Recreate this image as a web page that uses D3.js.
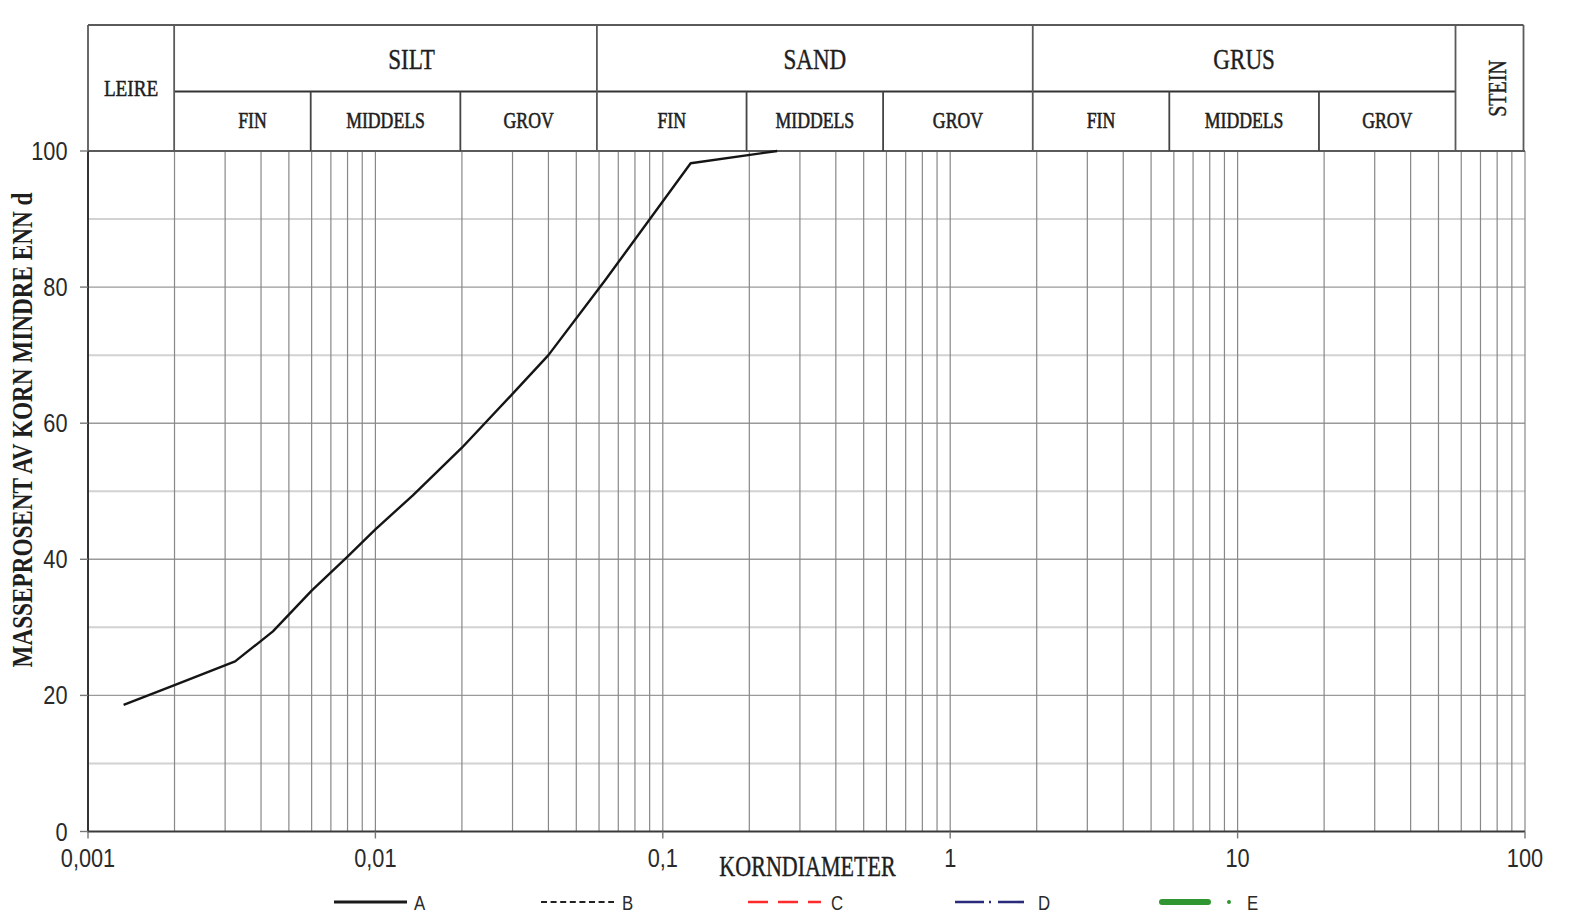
<!DOCTYPE html>
<html>
<head>
<meta charset="utf-8">
<title>Kornfordeling</title>
<script src="https://cdn.jsdelivr.net/npm/d3@7"></script>
<style>
  html, body { margin: 0; padding: 0; background: #fff; }
  svg { display: block; }
</style>
</head>
<body>
<svg id="chart" width="1574" height="920"></svg>
<script>
// Grain size distribution curve, sample A (diameter in mm, % passing)
const grainSize = [0.00133, 0.002, 0.00325, 0.0044, 0.006, 0.008, 0.01, 0.0135, 0.02, 0.03, 0.04, 0.063, 0.125, 0.25];
const passingA  = [18.6, 21.5, 25.0, 29.4, 35.4, 40.4, 44.4, 49.4, 56.4, 64.3, 70.0, 81.0, 98.2, 100];

// Soil classes along the diameter axis (mm)
const mainClasses = ["LEIRE", "SILT", "SAND", "GRUS", "STEIN"];
const mainBounds  = [0.001, 0.002, 0.06, 2, 60, 100];
const subClasses  = ["FIN", "MIDDELS", "GROV", "FIN", "MIDDELS", "GROV", "FIN", "MIDDELS", "GROV"];
const subBounds   = [0.002, 0.006, 0.02, 0.06, 0.2, 0.6, 2, 6, 20, 60];

// Axis ticks
const xTickValues = [0.001, 0.01, 0.1, 1, 10, 100];
const xTickLabels = ["0,001", "0,01", "0,1", "1", "10", "100"];
const yTickValues = [0, 20, 40, 60, 80, 100];
const yTickLabels = ["0", "20", "40", "60", "80", "100"];

// Legend entries
const legendNames = ["A", "B", "C", "D", "E"];

// ---------------------------------------------------------------------------
const svg = d3.select("#chart");
const SERIF = "'Liberation Serif', 'Times New Roman', serif";
const SANS  = "'Liberation Sans', Arial, sans-serif";
const INK = "#1e1e1e";

const plot = { left: 88, right: 1525, top: 151, bottom: 831.5 };
const head = { top: 25, mid: 91.5, bottom: 151, right: 1523.5 };

const x  = d3.scaleLog().domain([0.001, 100]).range([plot.left, plot.right]);
const y  = d3.scaleLinear().domain([0, 100]).range([plot.bottom, plot.top]);
// the class table above the plot sits on its own, slightly narrower band
const hx = d3.scaleLog().domain([0.001, 100]).range([plot.left, 1519]);

// condensed text helper: font glyphs are drawn narrow, as on the printed form
function label(g, str, px, py, o) {
  const k = o.k ?? 0.78;
  const rot = o.rotate ? ` rotate(${o.rotate})` : "";
  const t = g.append("text")
    .attr("transform", `translate(${px},${py})${rot} scale(${k},1)`)
    .attr("text-anchor", o.anchor || "middle")
    .attr("font-family", o.family || SERIF)
    .attr("font-size", o.size)
    .attr("font-weight", o.weight || "normal")
    .attr("fill", o.fill || INK)
    .text(str);
  if (o.heavy) {
    t.attr("stroke", o.fill || INK).attr("stroke-width", o.heavy);
  }
  return t;
}

// ---- grid ---------------------------------------------------------------
const grid = svg.append("g");

grid.selectAll("line.hg")
  .data(y.ticks(10).filter(v => v > 0 && v < 100))
  .join("line")
  .attr("x1", plot.left).attr("x2", plot.right)
  .attr("y1", d => y(d)).attr("y2", d => y(d))
  .attr("stroke", d => d % 20 === 0 ? "#9a9a9a" : "#d2d2d2")
  .attr("stroke-width", d => d % 20 === 0 ? 1.4 : 2);

grid.selectAll("line.vg")
  .data(x.ticks().filter(v => v > 0.001))
  .join("line")
  .attr("x1", d => x(d)).attr("x2", d => x(d))
  .attr("y1", plot.top).attr("y2", plot.bottom)
  .attr("stroke", "#888")
  .attr("stroke-width", 1.2);

// ---- class table ---------------------------------------------------------
const table = svg.append("g").attr("stroke", "#5a5a5a").attr("stroke-width", 1.8).attr("fill", "none");

table.append("line").attr("x1", plot.left).attr("x2", head.right).attr("y1", head.top).attr("y2", head.top);
table.append("line").attr("x1", plot.left).attr("x2", plot.right).attr("y1", head.bottom).attr("y2", head.bottom);
table.append("line").attr("x1", plot.left).attr("x2", plot.left).attr("y1", head.top).attr("y2", head.bottom);
table.append("line").attr("x1", head.right).attr("x2", head.right).attr("y1", head.top).attr("y2", head.bottom);

table.append("line")
  .attr("x1", hx(mainBounds[1])).attr("x2", hx(mainBounds[4]))
  .attr("y1", head.mid).attr("y2", head.mid)
  .attr("stroke", "#333");

table.selectAll("line.mb")
  .data(mainBounds.slice(1, -1))
  .join("line")
  .attr("x1", d => hx(d)).attr("x2", d => hx(d))
  .attr("y1", head.top).attr("y2", head.bottom);

table.selectAll("line.sb")
  .data(subBounds.filter(v => !mainBounds.includes(v)))
  .join("line")
  .attr("x1", d => hx(d)).attr("x2", d => hx(d))
  .attr("y1", head.mid).attr("y2", head.bottom)
  .attr("stroke", "#444");

const texts = svg.append("g");

// class name shifts inside their cells (px), as printed on the form
const mainShift = { SILT: 26 };
const subShift  = { 0: 10 };

mainClasses.forEach((name, i) => {
  const a = hx(mainBounds[i]);
  const b = i === mainClasses.length - 1 ? head.right : hx(mainBounds[i + 1]);
  const cx = (a + b) / 2 + (mainShift[name] || 0);
  if (name === "LEIRE") {
    label(texts, name, cx, 95.5, { size: 24, k: 0.8, heavy: 0.5 });
  } else if (name === "STEIN") {
    label(texts, name, cx + 8, 88.5, { size: 25, k: 0.8, rotate: -90, heavy: 0.4 })
      .attr("dy", "0.35em");
  } else {
    label(texts, name, cx, 68.5, { size: 30, k: 0.77, heavy: 0.4 });
  }
});

subClasses.forEach((name, i) => {
  const cx = (hx(subBounds[i]) + hx(subBounds[i + 1])) / 2 + (subShift[i] || 0);
  label(texts, name, cx, 127.5, { size: 23, k: 0.77, heavy: 0.6 });
});

// ---- axes -----------------------------------------------------------------
const axes = svg.append("g");

axes.append("line")
  .attr("x1", plot.left).attr("x2", plot.right)
  .attr("y1", plot.bottom).attr("y2", plot.bottom)
  .attr("stroke", "#3a3a3a").attr("stroke-width", 2.2);
axes.append("line")
  .attr("x1", plot.left).attr("x2", plot.left)
  .attr("y1", plot.top).attr("y2", plot.bottom + 1)
  .attr("stroke", "#333").attr("stroke-width", 2);

axes.selectAll("line.xt")
  .data(xTickValues)
  .join("line")
  .attr("x1", d => x(d)).attr("x2", d => x(d))
  .attr("y1", plot.bottom).attr("y2", plot.bottom + 7)
  .attr("stroke", "#777").attr("stroke-width", 1.4);

axes.selectAll("line.yt")
  .data(yTickValues)
  .join("line")
  .attr("x1", plot.left - 8).attr("x2", plot.left)
  .attr("y1", d => y(d)).attr("y2", d => y(d))
  .attr("stroke", "#777").attr("stroke-width", 1.4);

xTickValues.forEach((v, i) => {
  label(axes, xTickLabels[i], x(v), 866.5, { size: 25, k: 0.87, family: SANS, fill: "#2a2a2a" });
});
yTickValues.forEach((v, i) => {
  label(axes, yTickLabels[i], 67.5, y(v) + 9, { size: 25, k: 0.87, family: SANS, anchor: "end", fill: "#2a2a2a" });
});

label(axes, "KORNDIAMETER", 807.5, 876, { size: 29, k: 0.76, heavy: 0.4 });
label(axes, "MASSEPROSENT AV KORN MINDRE ENN d", 32, 430, { size: 29, k: 0.8, weight: "bold", rotate: -90 });

// ---- curve ----------------------------------------------------------------
const seriesA = grainSize.map((d, i) => ({ d, p: passingA[i] }));
const line = d3.line().x(v => x(v.d)).y(v => y(v.p));

svg.append("path")
  .datum(seriesA)
  .attr("d", line)
  .attr("fill", "none")
  .attr("stroke", "#151515")
  .attr("stroke-width", 2.4)
  .attr("stroke-linejoin", "round");

// ---- legend ---------------------------------------------------------------
const legendStyle = {
  A: { color: "#1a1a1a", width: 3,   dash: null,         len: 73, gap: 80 },
  B: { color: "#222",    width: 2.2, dash: "6,3.6",      len: 73, gap: 81 },
  C: { color: "#ff2a2a", width: 2.6, dash: "20,10",      len: 73, gap: 83 },
  D: { color: "#2b2b7c", width: 2.6, dash: "29,5,2,7",   len: 69, gap: 83 },
  E: { color: "#2f9632", width: 6,   dash: null,         len: 46, gap: 85, cap: "round", dot: true }
};

const legend = svg.append("g");
const legendY = 902;
legendNames.forEach((name, i) => {
  const s = legendStyle[name];
  const x0 = 334 + i * 207;
  legend.append("line")
    .attr("x1", x0).attr("x2", x0 + s.len)
    .attr("y1", legendY).attr("y2", legendY)
    .attr("stroke", s.color)
    .attr("stroke-width", s.width)
    .attr("stroke-linecap", s.cap || "butt")
    .attr("stroke-dasharray", s.dash);
  if (s.dot) {
    legend.append("circle")
      .attr("cx", x0 + 67).attr("cy", legendY).attr("r", 2)
      .attr("fill", s.color);
  }
  label(legend, name, x0 + s.gap, 910, { size: 21, k: 0.8, family: SANS, anchor: "start", fill: "#2a2a2a" });
});
</script>
</body>
</html>
